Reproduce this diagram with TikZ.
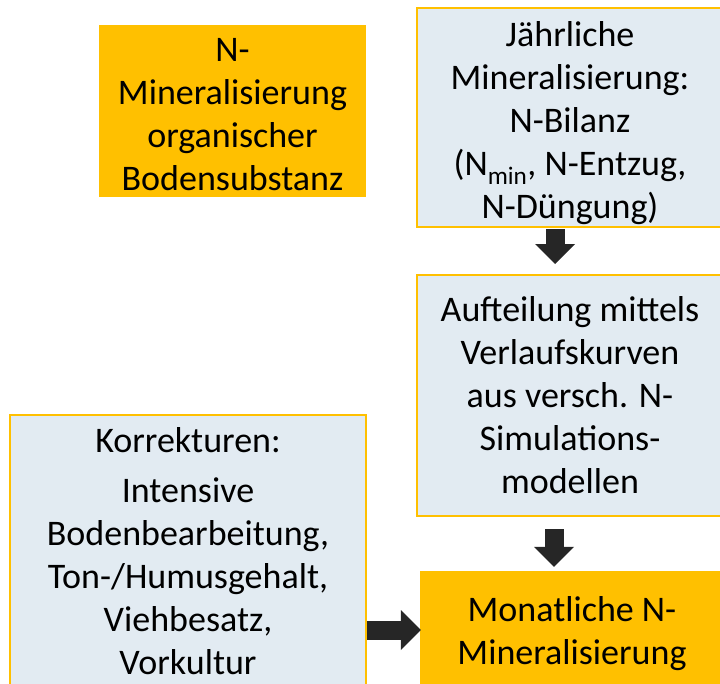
\documentclass[tikz,border=0pt]{standalone}
\usepackage{fontspec}
\setmainfont{Carlito}
\usepackage{tikz}
\usetikzlibrary{arrows.meta}
\usetikzlibrary{positioning, calc}
\definecolor{boxorange}{HTML}{FFC000}
\definecolor{boxblue}{HTML}{E2EBF2}
\definecolor{arrowgrey}{HTML}{262626}
\tikzset{
orange box/.style = { rectangle, draw = none, fill = boxorange, align = center, inner sep = 0pt, font = \fontsize{36}{43}\selectfont },
blue box/.style = { rectangle, draw = boxorange, line width = 2pt, fill = boxblue, align = center, inner sep = 0pt, font = \fontsize{36}{43}\selectfont },
block arrow/.style = { draw = arrowgrey, line width = 19pt, -{Triangle[length = 20pt, width = 40pt, line width = 0pt]} },
}

\begin{document}
\begin{tikzpicture}[x = 1pt, y = -1pt]
    \useasboundingbox (0, 0) rectangle (720, 683);
    \node[orange box, minimum width = 267pt, minimum height = 172pt] (org) at (232.5, 111) {\rule{0pt}{30pt}N-\\Mineralisierung\\organischer\\Bodensubstanz};
    \node[blue box, minimum width = 306pt, minimum height = 219pt] (jahr) at (570, 117.5) {\rule{0pt}{36pt}J\"ahrliche\\Mineralisierung:\\N-Bilanz\\(N\textsubscript{min}, N-Entzug,\\N-D\"ungung)};
    \node[blue box, minimum width = 306pt, minimum height = 241pt] (auf) at (570, 395.5) {Aufteilung mittels\\Verlaufskurven\\aus versch. N-\\Simulations-\\modellen};
    \node[orange box, minimum width = 304pt, minimum height = 118pt] (mon) at (572, 630) {\rule{0pt}{32pt}Monatliche N-\\Mineralisierung};
    \node[blue box, minimum width = 356pt, minimum height = 272pt] (kor) at (188, 551) {Korrekturen:\\[7pt]Intensive\\Bodenbearbeitung,\\Ton-/Humusgehalt,\\Viehbesatz,\\Vorkultur};
    % arrows
    \draw[block arrow, shorten < = 1pt, shorten > = 10pt] ([xshift = -15pt]jahr.south) -- ([xshift = -15pt]jahr.south |- auf.north);
    \draw[block arrow, shorten < = 12pt, shorten > = 4pt] ([xshift = -16pt]auf.south) -- ([xshift = -16pt]auf.south |- mon.north);
    \draw[block arrow, shorten > = -1pt] (kor.east |- mon.west) -- (mon.west);
\end{tikzpicture}
\end{document}
